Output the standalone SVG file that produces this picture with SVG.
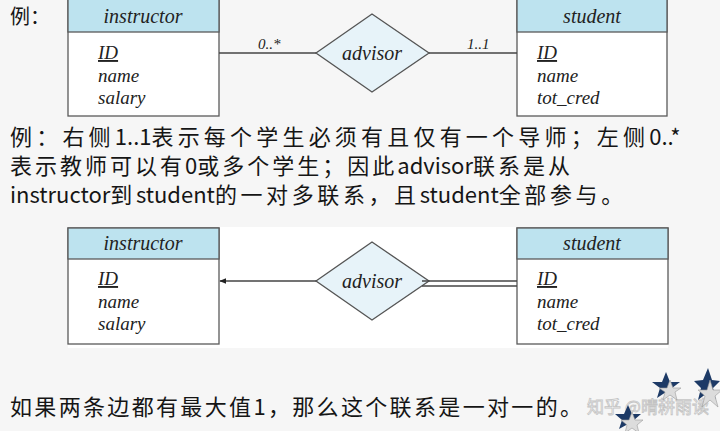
<svg xmlns="http://www.w3.org/2000/svg" width="720" height="431" viewBox="0 0 720 431">
<defs>
<style>
.box{fill:#ffffff;stroke:#5a5a5a;stroke-width:1.3}
.hdr{fill:#bde3ef;stroke:#5a5a5a;stroke-width:1.3}
.dia{fill:#e7f3f9;stroke:#555;stroke-width:1.3}
.ln{stroke:#444;stroke-width:1.3;fill:none}
.t{font-family:"Liberation Serif","DejaVu Serif",serif;font-style:italic;fill:#222}
.h{font-size:20px;text-anchor:middle}
.a{font-size:19px}
.c{font-size:15px}
.zh{font-family:"Noto Sans CJK SC","Noto Sans",sans-serif;font-size:22px;fill:#151515}
.la{letter-spacing:0}
.wm{font-family:"Noto Sans CJK SC",sans-serif;font-size:17px;fill:#ffffff;stroke:#c4c4c4;stroke-width:0.8}
.star{fill:#1d3a66}
.star2{fill:#dcdcdc;stroke:#9a9a9a;stroke-width:0.6}
</style>
<marker id="arr" viewBox="0 0 10 10" refX="9" refY="5" markerWidth="7" markerHeight="7" orient="auto" markerUnits="userSpaceOnUse">
<path d="M0,1 L10,5 L0,9 z" fill="#222"/>
</marker>
</defs>
<rect x="0" y="0" width="720" height="431" fill="#f6f6f6"/>

<text class="zh" x="10" y="24" style="font-size:20px">例：</text>

<!-- top diagram -->
<g id="instructor1">
<rect class="box" x="68" y="-1" width="151" height="117"/>
<rect class="hdr" x="68" y="-1" width="151" height="33"/>
<text class="t h" x="143" y="23">instructor</text>
<text class="t a" x="98" y="59" text-decoration="underline">ID</text>
<text class="t a" x="98" y="82">name</text>
<text class="t a" x="98" y="104">salary</text>
</g>
<g id="student1">
<rect class="box" x="517" y="-1" width="150" height="117"/>
<rect class="hdr" x="517" y="-1" width="150" height="33"/>
<text class="t h" x="592" y="23">student</text>
<text class="t a" x="537" y="59" text-decoration="underline">ID</text>
<text class="t a" x="537" y="82">name</text>
<text class="t a" x="537" y="104">tot_cred</text>
</g>
<g id="advisor1">
<polygon class="dia" points="316,53 372,14 429,53 372,92"/>
<text class="t h" x="372" y="60">advisor</text>
</g>
<g id="connectors1">
<line class="ln" x1="219" y1="53" x2="316" y2="53"/>
<line class="ln" x1="429" y1="53" x2="517" y2="53"/>
<text class="t c" x="258" y="49">0..*</text>
<text class="t c" x="467" y="49">1..1</text>
</g>

<!-- explanation -->
<text class="zh" x="10" y="145" style="letter-spacing:4.2px">例：右侧<tspan class="la">1..1</tspan>表示每个学生必须有且仅有一个导师；左侧<tspan class="la">0..*</tspan></text>
<text class="zh" x="10" y="174" style="letter-spacing:3px">表示教师可以有<tspan class="la">0</tspan>或多个学生；因此<tspan class="la">advisor</tspan>联系是从</text>
<text class="zh" x="10" y="203" style="letter-spacing:3.6px"><tspan class="la">instructor</tspan>到<tspan class="la">student</tspan>的一对多联系，且<tspan class="la">student</tspan>全部参与。</text>

<!-- bottom diagram -->
<rect x="68" y="227" width="600" height="121" fill="#ffffff"/>
<g id="instructor2">
<rect class="box" x="68" y="228" width="151" height="116"/>
<rect class="hdr" x="68" y="228" width="151" height="31"/>
<text class="t h" x="143" y="250">instructor</text>
<text class="t a" x="98" y="285" text-decoration="underline">ID</text>
<text class="t a" x="98" y="308">name</text>
<text class="t a" x="98" y="330">salary</text>
</g>
<g id="student2">
<rect class="box" x="517" y="228" width="151" height="116"/>
<rect class="hdr" x="517" y="228" width="151" height="31"/>
<text class="t h" x="592" y="250">student</text>
<text class="t a" x="537" y="285" text-decoration="underline">ID</text>
<text class="t a" x="537" y="308">name</text>
<text class="t a" x="537" y="330">tot_cred</text>
</g>
<g id="advisor2">
<polygon class="dia" points="316,281 372,242 429,281 372,320"/>
<text class="t h" x="372" y="288">advisor</text>
</g>
<g id="connectors2">
<line class="ln" x1="316" y1="281" x2="220" y2="281" marker-end="url(#arr)"/>
<line class="ln" x1="422" y1="281" x2="517" y2="281"/>
<line class="ln" x1="422" y1="286" x2="517" y2="286"/>
</g>

<text class="zh" x="10" y="415" textLength="572" lengthAdjust="spacing">如果两条边都有最大值1，那么这个联系是一对一的。</text>

<!-- watermark and stars -->
<text class="wm" x="587" y="413">知乎 @晴耕雨读</text>
<g>
<polygon class="star" points="666,372 670,382 680,382 672,388 675,398 666,392 657,398 660,388 652,382 662,382"/>
<polygon class="star2" points="670,380 673,388 681,388 675,392 677,400 670,395 663,400 665,392 659,388 667,388"/>
<polygon class="star" points="708,368 712,380 720,381 713,388 716,400 707,393 698,400 701,388 694,381 703,380"/>
<polygon class="star2" points="710,380 713,390 722,390 715,396 718,407 710,400 702,407 705,396 698,390 707,390"/>
<polygon class="star" points="628,405 632,414 641,414 634,420 637,429 628,424 619,429 622,420 615,414 624,414"/>
<polygon class="star2" points="632,412 635,420 643,420 637,425 639,433 632,428 625,433 627,425 621,420 629,420"/>
</g>
</svg>
